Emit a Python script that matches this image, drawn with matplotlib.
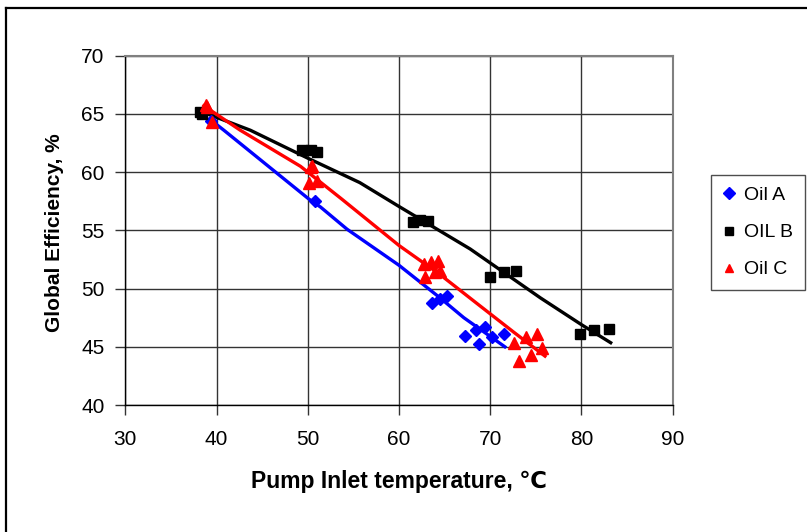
import matplotlib
matplotlib.use("Agg")
import matplotlib.pyplot as plt
from matplotlib.lines import Line2D

plt.rcParams["font.family"] = ["Liberation Sans", "DejaVu Sans"]

# =========================
# 数据
# =========================
oil_a_t = [39.4, 50.8, 63.6, 64.5, 65.3, 67.2, 68.4, 68.8, 69.4, 70.2, 71.5]
oil_a_e = [64.4, 57.5, 48.8, 49.1, 49.4, 45.9, 46.4, 45.2, 46.7, 45.8, 46.1]

oil_b_t = [38.2, 38.4, 49.4, 50.3, 51.0, 61.5, 62.3, 63.2, 70.0, 71.5, 72.8, 79.8, 81.4, 83.0]
oil_b_e = [65.2, 65.0, 61.9, 61.9, 61.7, 55.7, 55.9, 55.8, 51.0, 51.4, 51.5, 46.1, 46.4, 46.5]

oil_c_t = [38.8, 39.0, 39.5, 50.1, 50.3, 50.5, 51.0, 62.7, 62.9, 63.5, 63.9, 64.3, 64.5,
           72.6, 73.2, 73.9, 74.5, 75.1, 75.7]
oil_c_e = [65.8, 65.6, 64.3, 59.1, 60.4, 60.5, 59.2, 52.1, 51.0, 52.3, 51.4, 52.4, 51.5,
           45.3, 43.8, 45.8, 44.3, 46.1, 44.9]

# 趋势线
trend_a_t = [39.5, 40.8, 50.1, 51.4, 54.3, 60.0, 64.5, 67.1, 71.6]
trend_a_e = [64.4, 63.6, 57.7, 57.0, 55.1, 52.0, 49.2, 47.5, 45.0]

trend_b_t = [38.0, 43.7, 50.0, 55.7, 60.0, 67.8, 75.5, 80.0, 83.2]
trend_b_e = [65.3, 63.6, 61.2, 59.1, 57.05, 53.4, 49.2, 46.9, 45.35]

trend_c_t = [38.6, 42.6, 49.2, 53.7, 60.0, 64.5, 68.9, 72.5, 76.0]
trend_c_e = [65.7, 63.6, 60.5, 57.7, 53.7, 51.2, 48.5, 46.3, 44.2]

x_ticks = [30, 40, 50, 60, 70, 80, 90]
y_ticks = [40, 45, 50, 55, 60, 65, 70]

# =========================
# 绘图
# =========================
fig = plt.figure(figsize=(8.07, 5.32), dpi=100)
ax = fig.add_axes([0.1553, 0.2387, 0.8336 - 0.1553, 0.8953 - 0.2387])

ax.plot(trend_a_t, trend_a_e, color="#0000FF", lw=2.4, zorder=3)
ax.plot(trend_b_t, trend_b_e, color="black", lw=2.4, zorder=3)
ax.plot(trend_c_t, trend_c_e, color="#FF0000", lw=2.4, zorder=3)

ha, = ax.plot(oil_a_t, oil_a_e, ls="none", marker="D", ms=6, color="#0000FF", zorder=4)
hb, = ax.plot(oil_b_t, oil_b_e, ls="none", marker="s", ms=7, color="black", zorder=4)
hc, = ax.plot(oil_c_t, oil_c_e, ls="none", marker="^", ms=8, color="#FF0000", zorder=4)

ax.set_xlim(30, 90)
ax.set_ylim(40, 70)
ax.set_xticks(x_ticks)
ax.set_yticks(y_ticks)
ax.grid(True, color="#333333", lw=1)
ax.set_axisbelow(True)
ax.tick_params(direction="out", length=7, width=1, labelsize=15, color="#333333")
ax.tick_params(axis="x", pad=11)
ax.tick_params(axis="y", pad=8)

for side in ["top", "right"]:
    ax.spines[side].set_color("#808080")
    ax.spines[side].set_linewidth(1.5)
for side in ["left", "bottom"]:
    ax.spines[side].set_color("black")
    ax.spines[side].set_linewidth(1)

fig.text(0.067, 0.563, "Global Efficiency, %", rotation=90, ha="center", va="center",
         fontsize=15, fontweight="bold")
fig.text(0.495, 0.094, "Pump Inlet temperature, ℃", ha="center", va="center",
         fontsize=16.5, fontweight="bold")

leg = fig.legend([ha, hb, hc], ["Oil A", "OIL B", "Oil C"], loc="upper left",
                 bbox_to_anchor=(711 / 807, 1 - 175 / 532), fontsize=14,
                 frameon=True, fancybox=False, borderpad=0.6, labelspacing=1.0,
                 handlelength=0.7, handletextpad=0.4, borderaxespad=0)
leg.get_frame().set_edgecolor("#222222")
leg.get_frame().set_linewidth(1)
for h in leg.legend_handles:
    h.set_markersize(6)

# 外框
fig.add_artist(Line2D([6 / 807, 1.0], [1 - 7.5 / 532, 1 - 7.5 / 532], color="black", lw=1.6,
                      transform=fig.transFigure))
fig.add_artist(Line2D([6 / 807, 6 / 807], [0.0, 1 - 7.5 / 532], color="black", lw=1.6,
                      transform=fig.transFigure))

fig.savefig("out.png", dpi=100)
